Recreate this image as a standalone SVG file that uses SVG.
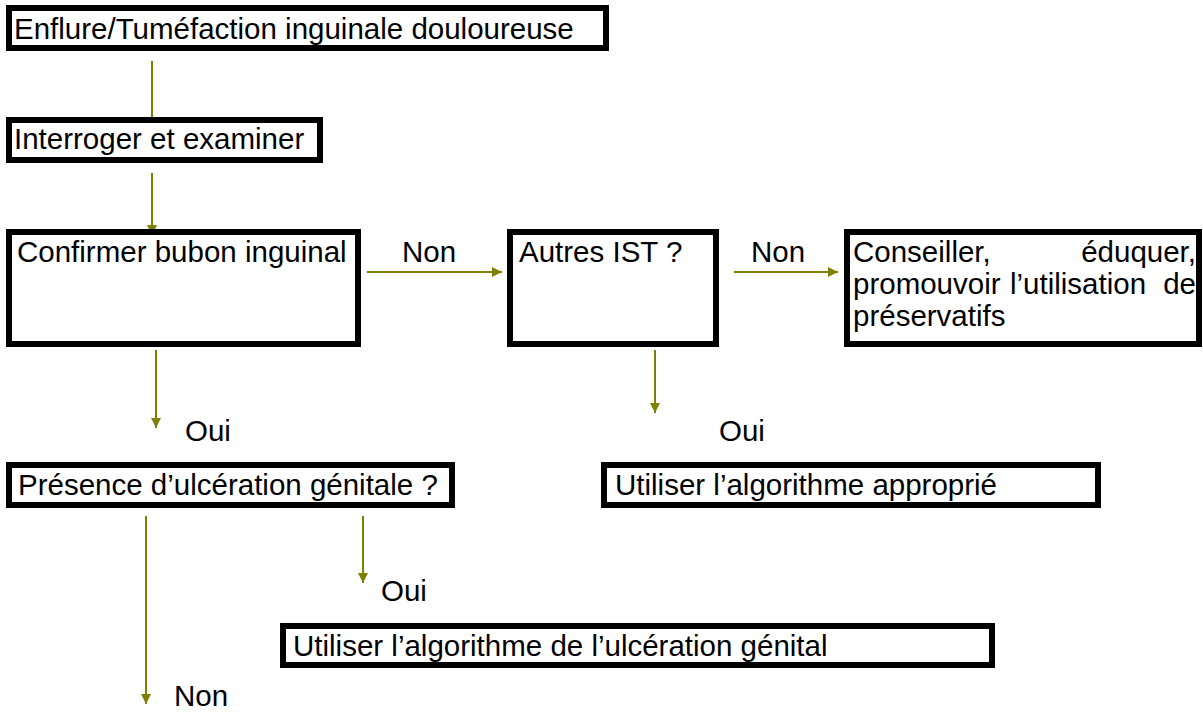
<svg xmlns="http://www.w3.org/2000/svg" width="1203" height="714" viewBox="0 0 1203 714">
  <style>
    .box { fill: #ffffff; stroke: #000000; stroke-width: 6; }
    .txt { font-family: "Liberation Sans", Arial, sans-serif; font-size: 29.5px; fill: #000000; }
    .wire { stroke: #808000; stroke-width: 2; fill: none; marker-end: url(#head); }
  </style>
  <defs>
    <marker id="head" markerUnits="userSpaceOnUse" markerWidth="10" markerHeight="10" refX="10" refY="5" orient="auto">
      <path d="M0,0 L10,5 L0,10 z" fill="#808000"/>
    </marker>
  </defs>
  <rect width="1203" height="714" fill="#ffffff"/>

  <g id="connectors">
    <line class="wire" x1="152" y1="61" x2="152" y2="127"/>
    <line class="wire" x1="152" y1="173" x2="152" y2="235"/>
    <line class="wire" x1="367" y1="272" x2="502" y2="272"/>
    <line class="wire" x1="734" y1="272" x2="838" y2="272"/>
    <line class="wire" x1="156" y1="350" x2="156" y2="428"/>
    <line class="wire" x1="655" y1="350" x2="655" y2="413"/>
    <line class="wire" x1="146" y1="516" x2="146" y2="704"/>
    <line class="wire" x1="363" y1="516" x2="363" y2="583"/>
    <text class="txt" x="402" y="262">Non</text>
    <text class="txt" x="751" y="262">Non</text>
    <text class="txt" x="185" y="441">Oui</text>
    <text class="txt" x="719" y="441">Oui</text>
    <text class="txt" x="381" y="601">Oui</text>
    <text class="txt" x="174" y="706">Non</text>
  </g>

  <g id="enflure">
    <rect class="box" x="9" y="8" width="597" height="40"/>
    <text class="txt" x="14" y="39">Enflure/Tuméfaction inguinale douloureuse</text>
  </g>

  <g id="interroger">
    <rect class="box" x="9" y="120" width="311" height="40"/>
    <text class="txt" x="14" y="149">Interroger et examiner</text>
  </g>

  <g id="confirmer">
    <rect class="box" x="9" y="232" width="349" height="112"/>
    <text class="txt" x="17" y="262">Confirmer bubon inguinal</text>
  </g>

  <g id="autres-ist">
    <rect class="box" x="510" y="232" width="206" height="112"/>
    <text class="txt" x="519" y="262">Autres IST ?</text>
  </g>

  <g id="conseiller">
    <rect class="box" x="847" y="232" width="352" height="112"/>
    <text class="txt" x="853" y="262">Conseiller,</text>
    <text class="txt" x="1196" y="262" text-anchor="end">éduquer,</text>
    <text class="txt" x="853" y="294">promouvoir</text>
    <text class="txt" x="1010" y="294">l’utilisation</text>
    <text class="txt" x="1196" y="294" text-anchor="end">de</text>
    <text class="txt" x="853" y="326">préservatifs</text>
  </g>

  <g id="presence">
    <rect class="box" x="9" y="465" width="443" height="40"/>
    <text class="txt" x="18" y="495">Présence d’ulcération génitale ?</text>
  </g>

  <g id="algorithme-approprie">
    <rect class="box" x="604" y="465" width="494" height="40"/>
    <text class="txt" x="615" y="495">Utiliser l’algorithme approprié</text>
  </g>

  <g id="algorithme-ulceration">
    <rect class="box" x="283" y="626" width="709" height="39"/>
    <text class="txt" x="293" y="656">Utiliser l’algorithme de l’ulcération génital</text>
  </g>
</svg>
